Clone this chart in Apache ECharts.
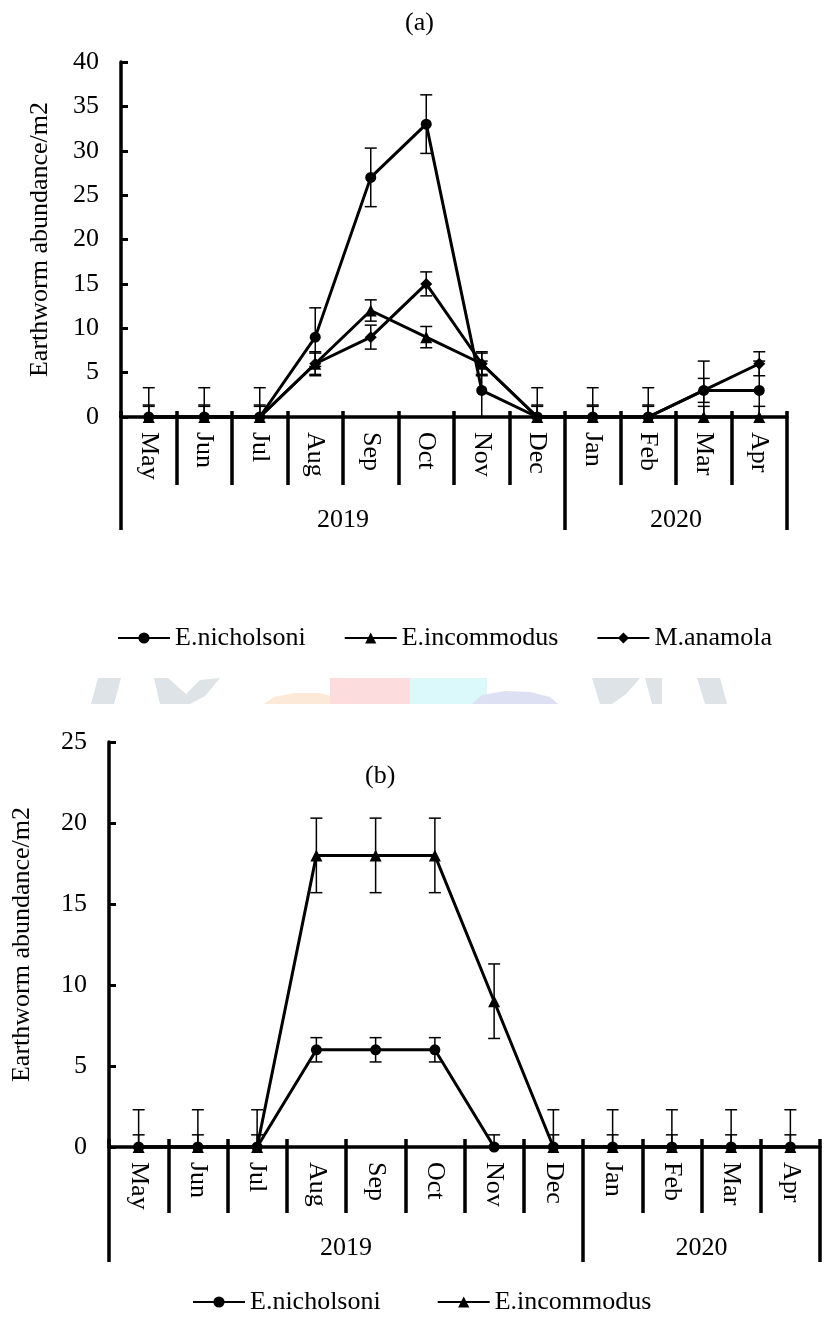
<!DOCTYPE html>
<html>
<head>
<meta charset="utf-8">
<script src="https://cdn.jsdelivr.net/npm/echarts@6/dist/echarts.min.js"></script>
<style>
  html, body { margin: 0; padding: 0; background: #fff; }
  #chart { width: 825px; height: 1319px; }
</style>
</head>
<body>
<div id="chart"></div>
<script>
// Sampling months and the year each block of months belongs to
const months = ['May', 'Jun', 'Jul', 'Aug', 'Sep', 'Oct', 'Nov', 'Dec', 'Jan', 'Feb', 'Mar', 'Apr'];
const years = ['2019', '2020'];
const monthsPerYear = [8, 4];

// Panel (a): abundance per m2 and standard error
const nicholsoniA    = [0, 0, 0, 9, 27, 33, 3, 0, 0, 0, 3, 3];
const nicholsoniAErr = [3.3, 3.3, 3.3, 3.3, 3.3, 3.3, 3.3, 3.3, 3.3, 3.3, 3.3, 3.3];
const incommodusA    = [0, 0, 0, 6, 12, 9, 6, 0, 0, 0, 0, 0];
const incommodusAErr = [1.2, 1.2, 1.2, 1.2, 1.2, 1.2, 1.2, 1.2, 1.2, 1.2, 1.2, 1.2];
const anamolaA       = [0, 0, 0, 6, 9, 15, 6, 0, 0, 0, 3, 6];
const anamolaAErr    = [1.35, 1.35, 1.35, 1.35, 1.35, 1.35, 1.35, 1.35, 1.35, 1.35, 1.35, 1.35];

// Panel (b): abundance per m2 and standard error
const nicholsoniB    = [0, 0, 0, 6, 6, 6, 0, 0, 0, 0, 0, 0];
const nicholsoniBErr = [0.75, 0.75, 0.75, 0.75, 0.75, 0.75, 0.75, 0.75, 0.75, 0.75, 0.75, 0.75];
const incommodusB    = [0, 0, 0, 18, 18, 18, 9, 0, 0, 0, 0, 0];
const incommodusBErr = [2.3, 2.3, 2.3, 2.3, 2.3, 2.3, 2.3, 2.3, 2.3, 2.3, 2.3, 2.3];

// Value axis ranges
const yMaxA = 40, yMaxB = 25, yStep = 5;

const FONT = 'Liberation Serif';
const INK = '#000';
const FS = 26;

// Year bracket positions along the month scale
const yearBounds = [0];
monthsPerYear.forEach(n => yearBounds.push(yearBounds[yearBounds.length - 1] + n));
const yearCenters = years.map((_, i) => (yearBounds[i] + yearBounds[i + 1]) / 2);

function monthAxes(g, dropLen, riseLen, yearLen) {
  return [
    {
      type: 'category', gridIndex: g, position: 'bottom', data: months, boundaryGap: true,
      axisLine: { lineStyle: { color: INK, width: 3.5 } },
      axisTick: { show: true, inside: false, length: dropLen, lineStyle: { color: INK, width: 3.5 } },
      axisLabel: { interval: 0, rotate: -90, margin: 15, fontSize: FS, fontFamily: FONT, color: INK },
      splitLine: { show: false }
    },
    {
      type: 'category', gridIndex: g, position: 'bottom', data: months, boundaryGap: true,
      axisLine: { show: false },
      axisTick: { show: true, inside: true, length: riseLen, lineStyle: { color: INK, width: 3.5 } },
      axisLabel: { show: false },
      splitLine: { show: false }
    },
    {
      type: 'value', gridIndex: g, position: 'bottom', offset: dropLen,
      min: 0, max: months.length,
      axisLine: { show: false },
      splitLine: { show: false },
      axisTick: { show: true, inside: false, length: yearLen, customValues: yearBounds,
                  lineStyle: { color: INK, width: 3.5 } },
      axisLabel: { show: true, customValues: yearCenters, margin: 22, fontSize: FS, fontFamily: FONT, color: INK,
                   formatter: v => years[yearCenters.indexOf(v)] }
    }
  ];
}

function valueAxis(g, max, gap) {
  return {
    type: 'value', gridIndex: g, min: 0, max: max, interval: yStep,
    name: 'Earthworm abundance/m2', nameLocation: 'middle', nameGap: gap, nameRotate: 90,
    nameTextStyle: { fontSize: FS, fontFamily: FONT, color: INK },
    axisLine: { show: true, lineStyle: { color: INK, width: 3.5 } },
    axisTick: { show: true, inside: true, length: 7, lineStyle: { color: INK, width: 3 } },
    axisLabel: { margin: 22, fontSize: FS, fontFamily: FONT, color: INK },
    splitLine: { show: false }
  };
}

function lineSeries(name, g, vals, symbol, size) {
  return {
    type: 'line', name: name, xAxisIndex: g * 3, yAxisIndex: g, data: vals,
    symbol: symbol, symbolSize: size, showSymbol: true, clip: false, z: 4,
    lineStyle: { color: INK, width: 3 },
    itemStyle: { color: INK, borderWidth: 0 },
    emphasis: { disabled: true }, animation: false
  };
}

function errorBars(g, vals, errs) {
  return {
    type: 'custom', xAxisIndex: g * 3, yAxisIndex: g, silent: true, z: 3, animation: false,
    data: vals.map((v, i) => [i, v, errs[i]]),
    encode: { x: 0, y: 1 },
    renderItem(params, api) {
      const i = api.value(0), v = api.value(1), e = api.value(2);
      const hi = api.coord([i, v + e]);
      const lo = api.coord([i, Math.max(0, v - e)]);
      const cap = 6;
      const st = { stroke: INK, lineWidth: 1.5 };
      const kids = [
        { type: 'line', shape: { x1: hi[0], y1: hi[1], x2: lo[0], y2: lo[1] }, style: st },
        { type: 'line', shape: { x1: hi[0] - cap, y1: hi[1], x2: hi[0] + cap, y2: hi[1] }, style: st }
      ];
      if (v - e >= 0) {
        kids.push({ type: 'line', shape: { x1: lo[0] - cap, y1: lo[1], x2: lo[0] + cap, y2: lo[1] }, style: st });
      }
      return { type: 'group', children: kids };
    }
  };
}

// Faint logo band printed between the two panels
const logoColors = { grey: '#dde3e6', pink: '#fddcde', cyan: '#dbf9fb', blue: '#dde0f2', orange: '#fde9d8' };
const logoBand = [
  { type: 'polygon', shape: { points: [[98, 678], [121, 678], [114, 704], [91, 704]] }, style: { fill: logoColors.grey } },
  { type: 'polygon', shape: { points: [[154, 678], [168, 678], [186, 694], [200, 680], [220, 678], [205, 696], [190, 704], [160, 704]] }, style: { fill: logoColors.grey } },
  { type: 'polygon', shape: { points: [[264, 704], [274, 697], [294, 693], [320, 693], [334, 697], [334, 704]] }, style: { fill: logoColors.orange } },
  { type: 'rect', shape: { x: 330, y: 678, width: 80, height: 26 }, style: { fill: logoColors.pink } },
  { type: 'rect', shape: { x: 410, y: 678, width: 77, height: 26 }, style: { fill: logoColors.cyan } },
  { type: 'polygon', shape: { points: [[472, 704], [482, 695], [505, 691], [530, 692], [550, 697], [558, 704]] }, style: { fill: logoColors.blue } },
  { type: 'polygon', shape: { points: [[592, 678], [640, 678], [626, 694], [612, 704], [600, 704]] }, style: { fill: logoColors.grey } },
  { type: 'polygon', shape: { points: [[645, 678], [662, 678], [662, 704], [652, 704]] }, style: { fill: logoColors.grey } },
  { type: 'polygon', shape: { points: [[697, 678], [720, 678], [727, 704], [705, 704]] }, style: { fill: logoColors.grey } }
].map(el => Object.assign({ z: -10, silent: true }, el));

const legendBase = {
  orient: 'horizontal', itemWidth: 52, itemHeight: 14, selectedMode: false,
  textStyle: { fontSize: FS, fontFamily: FONT, color: INK, lineHeight: 26 }
};

const chart = echarts.init(document.getElementById('chart'), null, { renderer: 'canvas' });
chart.setOption({
  animation: false,
  backgroundColor: '#fff',
  textStyle: { fontFamily: FONT, color: INK },
  title: [
    { text: '(a)', left: 400, top: 5, textStyle: { fontSize: FS, fontWeight: 'normal', fontFamily: FONT, color: INK } },
    { text: '(b)', left: 360, top: 758, textStyle: { fontSize: FS, fontWeight: 'normal', fontFamily: FONT, color: INK } }
  ],
  legend: [
    Object.assign({}, legendBase, { data: ['E.nicholsoni', 'E.incommodus', 'M.anamola'], left: 112, top: 620, itemGap: 38 }),
    Object.assign({}, legendBase, { data: ['E.nicholsoni', 'E.incommodus'], left: 187, top: 1284, itemGap: 56 })
  ],
  grid: [
    { left: 121, top: 62, width: 666, height: 355, containLabel: false },
    { left: 109, top: 742, width: 711, height: 405, containLabel: false }
  ],
  xAxis: [].concat(monthAxes(0, 68, 6, 45), monthAxes(1, 66, 8, 49)),
  yAxis: [valueAxis(0, yMaxA, 68), valueAxis(1, yMaxB, 74)],
  graphic: logoBand,
  series: [
    errorBars(0, nicholsoniA, nicholsoniAErr),
    errorBars(0, incommodusA, incommodusAErr),
    errorBars(0, anamolaA, anamolaAErr),
    lineSeries('E.nicholsoni', 0, nicholsoniA, 'circle', 11),
    lineSeries('E.incommodus', 0, incommodusA, 'triangle', 12),
    lineSeries('M.anamola', 0, anamolaA, 'diamond', 12),
    errorBars(1, nicholsoniB, nicholsoniBErr),
    errorBars(1, incommodusB, incommodusBErr),
    lineSeries('E.nicholsoni', 1, nicholsoniB, 'circle', 11),
    lineSeries('E.incommodus', 1, incommodusB, 'triangle', 12)
  ]
});
</script>
</body>
</html>
